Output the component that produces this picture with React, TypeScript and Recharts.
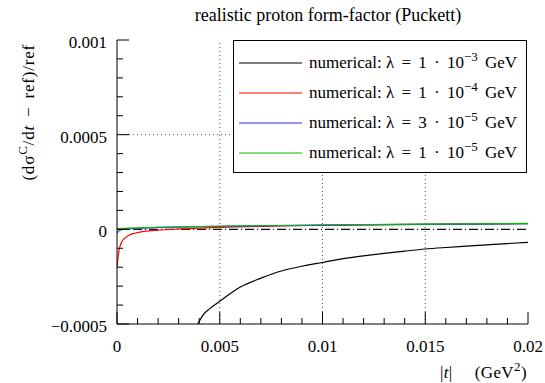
import React from 'react';
import { LineChart, Line, XAxis, YAxis, ReferenceLine, Legend } from 'recharts';

// ---- data ----
const blackT = [0.00393, 0.0042, 0.0045, 0.005, 0.0055, 0.006, 0.007, 0.008, 0.009, 0.01, 0.011, 0.012, 0.013, 0.014, 0.015, 0.016, 0.017, 0.018, 0.019, 0.02];
const blackV = [-0.0005, -0.00045, -0.00042, -0.00038, -0.00034, -0.000305, -0.000258, -0.00022, -0.000195, -0.000175, -0.000155, -0.00014, -0.000127, -0.000115, -0.000104, -0.000096, -0.000089, -0.000082, -0.000075, -0.000069];

const redT = [0, 0.00005, 0.0001, 0.00015, 0.0002, 0.0003, 0.0004, 0.0006, 0.0008, 0.001, 0.0013, 0.0017, 0.002, 0.0026, 0.003, 0.004, 0.005, 0.006, 0.008, 0.01, 0.013, 0.016, 0.02];
const redV = [-0.000205, -0.00015, -0.00011, -0.000088, -0.000073, -0.000055, -0.000045, -0.00003, -0.000022, -0.000017, -0.000011, -0.000007, -0.000004, -0.000001, 0.000002, 0.000006, 0.00001, 0.000013, 0.000018, 0.000021, 0.000025, 0.000028, 0.00003];

const blueT = [0, 0.0001, 0.0002, 0.0004, 0.0007, 0.001, 0.002, 0.004, 0.006, 0.01, 0.015, 0.02];
const blueV = [-0.00002, -0.000008, -0.000003, 0.000001, 0.000004, 0.000006, 0.00001, 0.000014, 0.000017, 0.000022, 0.000026, 0.00003];

const greenT = [0, 0.001, 0.002, 0.004, 0.006, 0.01, 0.015, 0.02];
const greenV = [0.000004, 0.000008, 0.000011, 0.000015, 0.000018, 0.000023, 0.000027, 0.000031];

const xTicks = [0, 0.001, 0.002, 0.003, 0.004, 0.005, 0.006, 0.007, 0.008, 0.009, 0.01, 0.011, 0.012, 0.013, 0.014, 0.015, 0.016, 0.017, 0.018, 0.019, 0.02];
const xMajor = [0, 0.005, 0.01, 0.015, 0.02];
const xMajorLabels = ['0', '0.005', '0.01', '0.015', '0.02'];

const yTicks = [-0.0005, -0.0004, -0.0003, -0.0002, -0.0001, 0, 0.0001, 0.0002, 0.0003, 0.0004, 0.0005, 0.0006, 0.0007, 0.0008, 0.0009, 0.001];
const yMajor = [-0.0005, 0, 0.0005, 0.001];
const yMajorLabels = ['\u22120.0005', '0', '0.0005', '0.001'];

const xGrid = [0.005, 0.01, 0.015];
const yGrid = [0.0005];

const seriesNames = ['l1e3', 'l1e4', 'l3e5', 'l1e5'];
const seriesColors = ['#000000', '#ff0000', '#2a2aff', '#00c000'];
const legendCoefs = ['1', '1', '3', '1'];
const legendExps = ['\u22123', '\u22124', '\u22125', '\u22125'];

const title = 'realistic proton form-factor (Puckett)';

const toData = (t: number[], v: number[]) => t.map((x, i) => ({ t: x, v: v[i] }));
const seriesData = [toData(blackT, blackV), toData(redT, redV), toData(blueT, blueV), toData(greenT, greenV)];

const FONT = "'Liberation Serif', 'Times New Roman', serif";
const FS = 17;

const idx = (arr: number[], v: number) => arr.findIndex((m) => Math.abs(m - v) < 1e-9);

const BottomTick = (props: any) => {
  const { x, y, payload } = props;
  const i = idx(xMajor, payload.value);
  const major = i >= 0;
  return (
    <g>
      <line x1={x} x2={x} y1={y} y2={y - (major ? 12 : 6)} stroke="#000" strokeWidth={1} />
      {major && (
        <text x={x} y={y + 28} textAnchor="middle" fontFamily={FONT} fontSize={FS} fill="#000">
          {xMajorLabels[i]}
        </text>
      )}
    </g>
  );
};

const TopTick = (props: any) => {
  const { x, y, payload } = props;
  const major = idx(xMajor, payload.value) >= 0;
  return <line x1={x} x2={x} y1={y} y2={y + (major ? 12 : 6)} stroke="#000" strokeWidth={1} />;
};

const LeftTick = (props: any) => {
  const { x, y, payload } = props;
  const i = idx(yMajor, payload.value);
  const major = i >= 0;
  return (
    <g>
      <line x1={x} x2={x + (major ? 12 : 6)} y1={y} y2={y} stroke="#000" strokeWidth={1} />
      {major && (
        <text x={x - 10} y={y + 8} textAnchor="end" fontFamily={FONT} fontSize={FS} fill="#000">
          {yMajorLabels[i]}
        </text>
      )}
    </g>
  );
};

const RightTick = (props: any) => {
  const { x, y, payload } = props;
  const major = idx(yMajor, payload.value) >= 0;
  return <line x1={x} x2={x - (major ? 12 : 6)} y1={y} y2={y} stroke="#000" strokeWidth={1} />;
};

const LegendBox = () => (
  <div
    style={{
      width: '100%',
      height: '100%',
      boxSizing: 'border-box',
      border: '1px solid #000',
      background: '#fff',
      position: 'relative',
      fontFamily: FONT,
      fontSize: FS,
      color: '#000',
    }}
  >
    {seriesNames.map((n, i) => (
      <div
        key={n}
        style={{ position: 'absolute', left: 0, top: 7 + i * 30, height: 30, display: 'flex', alignItems: 'center', whiteSpace: 'pre' }}
      >
        <svg width={75} height={30} style={{ display: 'block' }}>
          <line x1={5} x2={68} y1={15} y2={15} stroke={seriesColors[i]} strokeWidth={1.2} />
        </svg>
        <span>numerical: </span>
        <span style={{ wordSpacing: 3 }}>
          {'\u03bb = ' + legendCoefs[i] + ' \u00b7 10'}
          <span style={{ position: 'relative', top: -7, fontSize: 13 }}>{legendExps[i]}</span>
          {' GeV'}
        </span>
      </div>
    ))}
  </div>
);

export default function App() {
  return (
    <div style={{ position: 'absolute', left: 0, top: 0 }}>
      <LineChart width={545} height={383} margin={{ top: 40, right: 17, bottom: 0, left: 0 }} style={{ fontFamily: FONT }}>
        <XAxis
          xAxisId="b"
          dataKey="t"
          type="number"
          domain={[0, 0.02]}
          ticks={xTicks}
          interval={0}
          tickSize={0}
          tickMargin={0}
          tickLine={false}
          axisLine={{ stroke: '#000', strokeWidth: 1 }}
          tick={<BottomTick />}
          height={59}
          allowDataOverflow
          label={(p: any) => {
            const vb = p.viewBox || { x: 117, y: 324, width: 411 };
            return (
              <text x={vb.x + vb.width - 1} y={vb.y + 54} textAnchor="end" fontFamily={FONT} fontSize={FS} fill="#000" letterSpacing={0.4}>
                |<tspan fontStyle="italic">t</tspan>|
                <tspan dx={22}>(GeV</tspan>
                <tspan fontSize={13} dy={-7}>2</tspan>
                <tspan dy={7}>)</tspan>
              </text>
            );
          }}
        />
        <XAxis
          xAxisId="top"
          orientation="top"
          type="number"
          domain={[0, 0.02]}
          ticks={xTicks}
          interval={0}
          tickSize={0}
          tickMargin={0}
          tickLine={false}
          axisLine={{ stroke: '#000', strokeWidth: 1 }}
          tick={<TopTick />}
          height={0}
          allowDataOverflow
        />
        <YAxis
          yAxisId="l"
          type="number"
          domain={[-0.0005, 0.001]}
          ticks={yTicks}
          interval={0}
          tickSize={0}
          tickMargin={0}
          tickLine={false}
          axisLine={{ stroke: '#000', strokeWidth: 1 }}
          tick={<LeftTick />}
          width={117}
          allowDataOverflow
          label={(p: any) => {
            const vb = p.viewBox || { x: 0, y: 40 };
            const lx = 34;
            const ly = vb.y + 4;
            return (
              <g>
                <text x={328} y={vb.y - 19} textAnchor="middle" fontFamily={FONT} fontSize={18} fill="#000">
                  {title}
                </text>
                <text
                  transform={`rotate(-90, ${lx}, ${ly})`}
                  x={lx}
                  y={ly}
                  textAnchor="end"
                  fontFamily={FONT}
                  fontSize={FS}
                  fill="#000"
                  letterSpacing={0.8}
                  wordSpacing={3}
                >
                  (d{'\u03c3'}
                  <tspan fontSize={13} dy={-7}>C</tspan>
                  <tspan dy={7}>/d</tspan>
                  <tspan fontStyle="italic">t</tspan>
                  <tspan>{' \u2212 ref)/ref'}</tspan>
                </text>
              </g>
            );
          }}
        />
        <YAxis
          yAxisId="r"
          orientation="right"
          type="number"
          domain={[-0.0005, 0.001]}
          ticks={yTicks}
          interval={0}
          tickSize={0}
          tickMargin={0}
          tickLine={false}
          axisLine={{ stroke: '#000', strokeWidth: 1 }}
          tick={<RightTick />}
          width={0}
          allowDataOverflow
        />
        {xGrid.map((g) => (
          <ReferenceLine key={`xg${g}`} x={g} xAxisId="b" yAxisId="l" stroke="#555" strokeWidth={1} strokeDasharray="1 3" />
        ))}
        {yGrid.map((g) => (
          <ReferenceLine key={`yg${g}`} y={g} xAxisId="b" yAxisId="l" stroke="#555" strokeWidth={1} strokeDasharray="1 3" />
        ))}
        <ReferenceLine y={0} xAxisId="b" yAxisId="l" stroke="#111" strokeWidth={1.2} strokeDasharray="9 3 1 3" />
        {seriesNames.map((n, i) => (
          <Line
            key={n}
            xAxisId="b"
            yAxisId="l"
            data={seriesData[i]}
            dataKey="v"
            name={n}
            type="monotone"
            stroke={seriesColors[i]}
            strokeWidth={1.2}
            dot={false}
            activeDot={false}
            isAnimationActive={false}
          />
        ))}
        <Legend
          layout="vertical"
          align="center"
          verticalAlign="middle"
          content={() => <LegendBox />}
          wrapperStyle={{ left: 233, top: 40, width: 294, height: 133 }}
        />
      </LineChart>
    </div>
  );
}
